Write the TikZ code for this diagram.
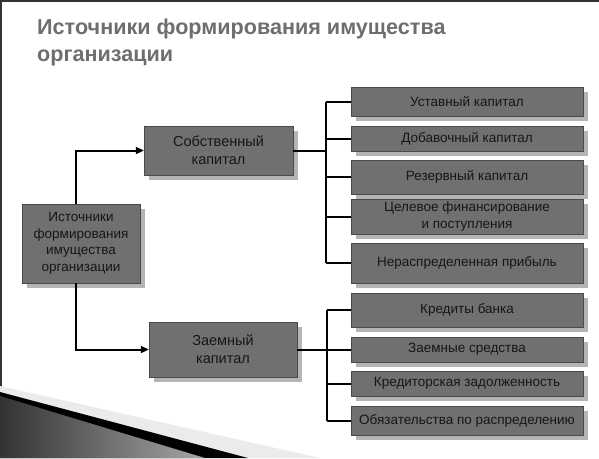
\documentclass[tikz,border=0pt]{standalone}
\usepackage{fontspec}
\setmainfont{Liberation Sans}
\usetikzlibrary{arrows.meta,shadows}
\definecolor{boxfill}{HTML}{707070}
\definecolor{boxline}{HTML}{4A4A4A}
\definecolor{boxshadow}{HTML}{B4B4B4}
\definecolor{titlegray}{HTML}{6E6E6E}
\definecolor{textdark}{HTML}{161616}
\newcommand{\itemBox}[4]{
  \node[item, minimum height=#3] (#1) at (467,#2) {#4};
}

\begin{document}
\begin{tikzpicture}[x=1pt, y=-1pt,
  box/.style={draw=boxline, fill=boxfill, text=textdark, align=center, inner sep=1pt,
    drop shadow={shadow xshift=5pt, shadow yshift=-5pt, fill=boxshadow, opacity=1}},
  item/.style={box, minimum width=232pt, font=\fontsize{13.5}{17}\selectfont},
  link/.style={line width=2pt, black},
  arr/.style={link, -{Triangle[length=8pt,width=7pt]}}]
  \useasboundingbox (0,0) rectangle (599,458);
  % Frame and corner decoration
  \fill[black!80] (0,0) rectangle (2,396);
  \fill[black!80] (0,0) rectangle (599,1.5);
  \fill[black!8] (0,386) -- (320,458) -- (0,458) -- cycle;
  \fill[black] (0,392) -- (248,458) -- (0,458) -- cycle;
  \shade[left color=black!80, right color=black!35] (0,396) -- (205,458) -- (0,458) -- cycle;

  % Title
  \node[anchor=north west, inner sep=0pt, align=left, text=titlegray,
    font=\bfseries\fontsize{21.6}{27}\selectfont] (title) at (37,19)
    {Источники формирования имущества\\организации};

  % Nodes
  \node[box, minimum width=118pt, minimum height=79pt, font=\fontsize{13.5}{16.5}\selectfont]
    (src) at (81,243.5) {Источники\\формирования\\имущества\\организации};
  \node[box, minimum width=149pt, minimum height=49pt, font=\fontsize{14.5}{18}\selectfont]
    (own) at (218.5,150.5) {Собственный\\капитал};
  \node[box, minimum width=148pt, minimum height=55pt, font=\fontsize{14.5}{18}\selectfont]
    (debt) at (223,349.5) {Заемный\\капитал};

  \itemBox{r1}{101.5}{29pt}{Уставный капитал}
  \itemBox{r2}{138.5}{25pt}{Добавочный капитал}
  \itemBox{r3}{177}{34pt}{Резервный капитал}
  \itemBox{r4}{216.5}{35pt}{Целевое финансирование\\и поступления}
  \itemBox{r5}{263}{40pt}{Нераспределенная прибыль}
  \itemBox{r6}{310}{34pt}{Кредиты банка}
  \itemBox{r7}{349.5}{25pt}{Заемные средства}
  \itemBox{r8}{383.5}{25pt}{Кредиторская задолженность}
  \itemBox{r9}{420.5}{29pt}{Обязательства по распределению}

  % Connectors
  \draw[arr] ([xshift=-5pt]src.north) |- (own.west);
  \draw[arr] ([xshift=-5pt]src.south) |- (debt.west);

  \coordinate (busOwn) at (326,150.5);
  \coordinate (busDebt) at (327,351);
  \draw[link] (own.east) -- (own.east -| busOwn);
  \draw[link] (r1.west -| busOwn) -- (r5.west -| busOwn);
  \foreach \n in {r1,r2,r3,r4,r5}
    \draw[link] (\n.west) -- (\n.west -| busOwn);
  \draw[link] (debt.east) -- (debt.east -| busDebt);
  \draw[link] (r6.west -| busDebt) -- (r9.west -| busDebt);
  \foreach \n in {r6,r7,r8,r9}
    \draw[link] (\n.west) -- (\n.west -| busDebt);
\end{tikzpicture}
\end{document}
